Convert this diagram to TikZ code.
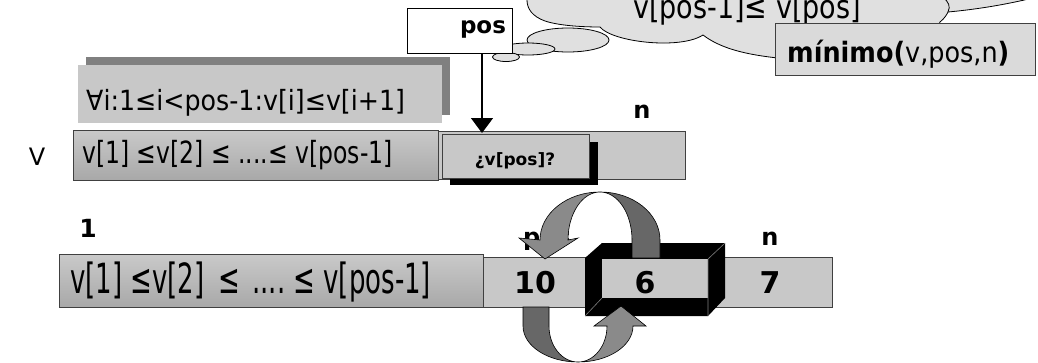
\documentclass[tikz,border=0pt]{standalone}
\usepackage{graphicx}
\usepackage{fontspec}
\setmainfont{DejaVu Sans}
\usetikzlibrary{arrows.meta,shapes.geometric}
\definecolor{lgray}{HTML}{C8C8C8}
\definecolor{sgray}{HTML}{808080}
\definecolor{cloudc}{HTML}{E0E0E0}
\definecolor{marble}{HTML}{DADADA}
\definecolor{arrlight}{HTML}{8A8A8A}
\definecolor{arrdark}{HTML}{676767}
\definecolor{edge}{HTML}{404040}
\newcommand{\myfs}[1]{\fontsize{#1}{#1}\selectfont}
\begin{document}
\begin{tikzpicture}[x=1pt,y=-1pt,
  texbox/.style={inner sep=0pt, outer sep=0pt, draw=edge, line width=0.8pt, top color=gray!42, bottom color=gray!68},
  graybox/.style={inner sep=0pt, outer sep=0pt, fill=lgray, draw=edge, line width=0.8pt},
  bubble/.style={draw=black, fill=cloudc, ellipse, inner sep=0pt, line width=0.8pt},
  txt/.style={inner sep=0pt, anchor=base west},
  lbl/.style={inner sep=0pt, anchor=base},
  ribbon/.style={draw=black, line width=0.6pt},
]
\useasboundingbox (0,0) rectangle (1038,362);
\clip (0,0) rectangle (1038,362);

% ---------- cloud ----------
\path[fill=cloudc, draw=black, line width=0.8pt]
  (545,-30) .. controls (522,-10) and (520,12) .. (545,21)
  .. controls (560,26) and (585,27) .. (600,27)
  .. controls (612,42) and (680,50) .. (703,35)
  .. controls (725,52) and (760,57) .. (800,60)
  -- (900,50) .. controls (925,40) and (938,30) .. (940,22)
  .. controls (945,18) and (947,14) .. (948,12)
  .. controls (980,9) and (1010,4) .. (1045,-5)
  -- (1045,-30) -- cycle;
\draw[line width=0.8pt] (948,12) .. controls (951,6) and (948,2) .. (944,-2);
\node[txt, font=\myfs{27}] (cloudtxt) at (633,18) {\scalebox{1}[1.2]{v[pos-1]≤ v[pos]}};

% thought bubbles
\node[bubble, minimum width=82pt, minimum height=24pt] (bub3) at (568,40) {};
\node[bubble, minimum width=54pt, minimum height=12pt] (bub2) at (528,49) {};
\node[bubble, minimum width=27pt, minimum height=9pt] (bub1) at (506,57) {};

% pos box
\node[inner sep=0pt, fill=white, draw=black, line width=0.8pt, minimum width=105pt, minimum height=45pt] (posbox) at (459.5,30.5) {};
\node[lbl, font=\myfs{23}\bfseries] (postxt) at (483,33) {pos};

% minimo box
\node[inner sep=0pt, fill=marble, draw=edge, line width=1pt, minimum width=260pt, minimum height=52pt] (minbox) at (905,49) {};
\node[txt, font=\myfs{25.5}] (mintxt) at (787,62) {\scalebox{1}[1.1]{\textbf{mínimo(}v,pos,n\textbf{)}}};

% ---------- forall box ----------
\node[inner sep=0pt, fill=sgray, minimum width=364pt, minimum height=58pt] (fshadow) at (268,86) {};
\node[inner sep=0pt, fill=lgray, minimum width=364pt, minimum height=58pt] (fbox) at (260,94) {};
\node[txt, font=\myfs{25.3}] (ftxt) at (86,110) {\scalebox{1}[1.1]{∀i:1≤i<pos-1:v[i]≤v[i+1]}};

% ---------- row 1 ----------
\node[lbl, font=\myfs{24}] (vlbl) at (37,165) {V};
\node[lbl, font=\myfs{24}\bfseries] (n1) at (642,118) {n};
\node[texbox, minimum width=365pt, minimum height=50pt] (tex1) at (255.5,155) {};
\node[graybox, minimum width=247pt, minimum height=48pt] (bar1) at (561.5,155) {};
\node[inner sep=0pt, fill=black, minimum width=148pt, minimum height=43pt] (qshadow) at (524,163.5) {};
\node[graybox, minimum width=147pt, minimum height=44pt] (qbox) at (515.5,156) {};
\node[lbl, font=\myfs{17}\bfseries] (qtxt) at (515,165) {¿v[pos]?};
\node[txt, font=\myfs{23.5}] (r1txt) at (82,163) {\scalebox{1}[1.3]{v[1] ≤v[2] ≤ ....≤ v[pos-1]}};

\coordinate (a1) at (482,53);
\coordinate (a2) at (482,133);
\draw[line width=1.4pt, -{Triangle[width=22pt,length=15pt]}] (a1) -- (a2);

% ---------- row 2 ----------
\node[lbl, font=\myfs{25}\bfseries] (one) at (88,237) {1};
\node[lbl, font=\myfs{24}\bfseries] (pos2) at (547,245) {pos};
\node[lbl, font=\myfs{24}\bfseries] (n2) at (770,245) {n};
\node[texbox, minimum width=424pt, minimum height=53pt] (tex2) at (271,280.5) {};
\node[graybox, minimum width=349pt, minimum height=50pt] (bar2) at (657.5,282) {};
\node[txt, font=\myfs{26}] (r2txt) at (70,293) {\scalebox{1}[1.6]{v[1] ≤v[2]\hspace{14pt}≤\hspace{12pt}....\hspace{8pt}≤ v[pos-1]}};

% 3D box around 6
\fill[black] (585,258) -- (602,243) -- (725,243) -- (725,298) -- (708,316) -- (585,316) -- cycle;
\fill[lgray] (602,259) rectangle (708,298);
\draw[gray, line width=0.6pt] (585,316) -- (602,298) (708,259) -- (725,243) (708,259) -- (708,316);

\node[lbl, font=\myfs{30}\bfseries] (ten) at (535,293) {10};
\node[lbl, font=\myfs{30}\bfseries] (six) at (645,293) {6};
\node[lbl, font=\myfs{30}\bfseries] (seven) at (770,293) {7};

% ---------- circular arrows ----------
% top arrow
\path[ribbon, fill=arrlight] (568,240) arc[start angle=180, end angle=90, x radius=32pt, y radius=48pt]
  arc[start angle=90, end angle=180, x radius=60pt, y radius=48pt]
  -- (519,238) -- (545,259) -- (578,238) -- cycle;
\path[ribbon, fill=arrdark] (600,192) arc[start angle=90, end angle=0, x radius=60pt, y radius=48pt]
  -- (660,258) -- (632,258) -- (632,240)
  arc[start angle=0, end angle=90, x radius=32pt, y radius=48pt] -- cycle;
% bottom arrow
\path[ribbon, fill=arrdark] (523,307) -- (523,326) arc[start angle=180, end angle=270, x radius=55pt, y radius=36pt]
  arc[start angle=270, end angle=180, x radius=29pt, y radius=36pt] -- (549,307) -- cycle;
\path[ribbon, fill=arrlight] (578,362) arc[start angle=270, end angle=360, x radius=55pt, y radius=36pt]
  -- (646,326) -- (621,306) -- (594,326) -- (607,326)
  arc[start angle=0, end angle=-90, x radius=29pt, y radius=36pt] -- cycle;
\end{tikzpicture}
\end{document}
